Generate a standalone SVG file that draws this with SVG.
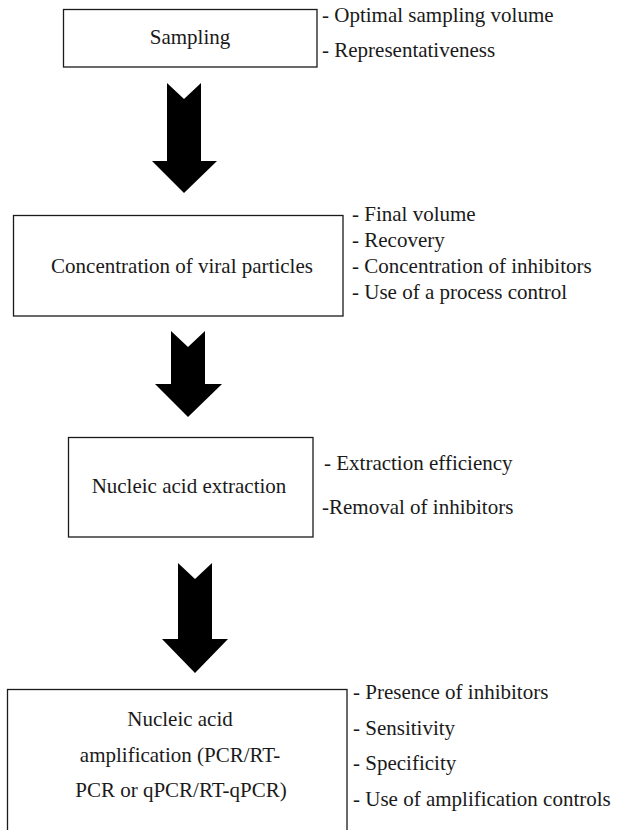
<svg xmlns="http://www.w3.org/2000/svg" width="617" height="830" viewBox="0 0 617 830">
<style>
.box{fill:#fff;stroke:#1a1a1a;stroke-width:1.3}
.t{font-family:"Liberation Serif","Times New Roman",serif;font-size:21px;fill:#1a1a1a}
.c{text-anchor:middle}
.arrow{fill:#000}
</style>
<rect width="617" height="830" fill="#fff"/>
<g id="connectors">
<path class="arrow" d="M167,83 L184,99 L201,83 L201,161 L217,161 L184,193 L152,161 L167,161 Z"/>
<path class="arrow" d="M171,331 L188,347 L205,331 L205,384 L222,384 L188,417 L155,384 L171,384 Z"/>
<path class="arrow" d="M178,563 L195,579 L212,563 L212,639 L228,639 L195,673 L162,639 L178,639 Z"/>
</g>
<g id="sampling">
<rect class="box" x="63.5" y="9.5" width="253.5" height="57.5"/>
<text class="t c" x="190" y="44">Sampling</text>
</g>
<g id="sampling-notes">
<text class="t" x="322" y="22">- Optimal sampling volume</text>
<text class="t" x="322" y="57">- Representativeness</text>
</g>
<g id="concentration">
<rect class="box" x="13.5" y="215.5" width="329.5" height="100.5"/>
<text class="t c" x="182" y="273">Concentration of viral particles</text>
</g>
<g id="concentration-notes">
<text class="t" x="352" y="221">- Final volume</text>
<text class="t" x="352" y="247">- Recovery</text>
<text class="t" x="352" y="273">- Concentration of inhibitors</text>
<text class="t" x="352" y="299">- Use of a process control</text>
</g>
<g id="extraction">
<rect class="box" x="68.5" y="437.5" width="244.5" height="99.5"/>
<text class="t c" x="189" y="493">Nucleic acid extraction</text>
</g>
<g id="extraction-notes">
<text class="t" x="324" y="470">- Extraction efficiency</text>
<text class="t" x="322" y="514">-Removal of inhibitors</text>
</g>
<g id="amplification">
<rect class="box" x="7.5" y="689.5" width="339.5" height="150"/>
<text class="t c" x="180" y="726">Nucleic acid</text>
<text class="t c" x="180" y="762">amplification (PCR/RT-</text>
<text class="t c" x="181" y="797">PCR or qPCR/RT-qPCR)</text>
</g>
<g id="amplification-notes">
<text class="t" x="353" y="699">- Presence of inhibitors</text>
<text class="t" x="353" y="735">- Sensitivity</text>
<text class="t" x="353" y="770">- Specificity</text>
<text class="t" x="353" y="806">- Use of amplification controls</text>
</g>
</svg>
